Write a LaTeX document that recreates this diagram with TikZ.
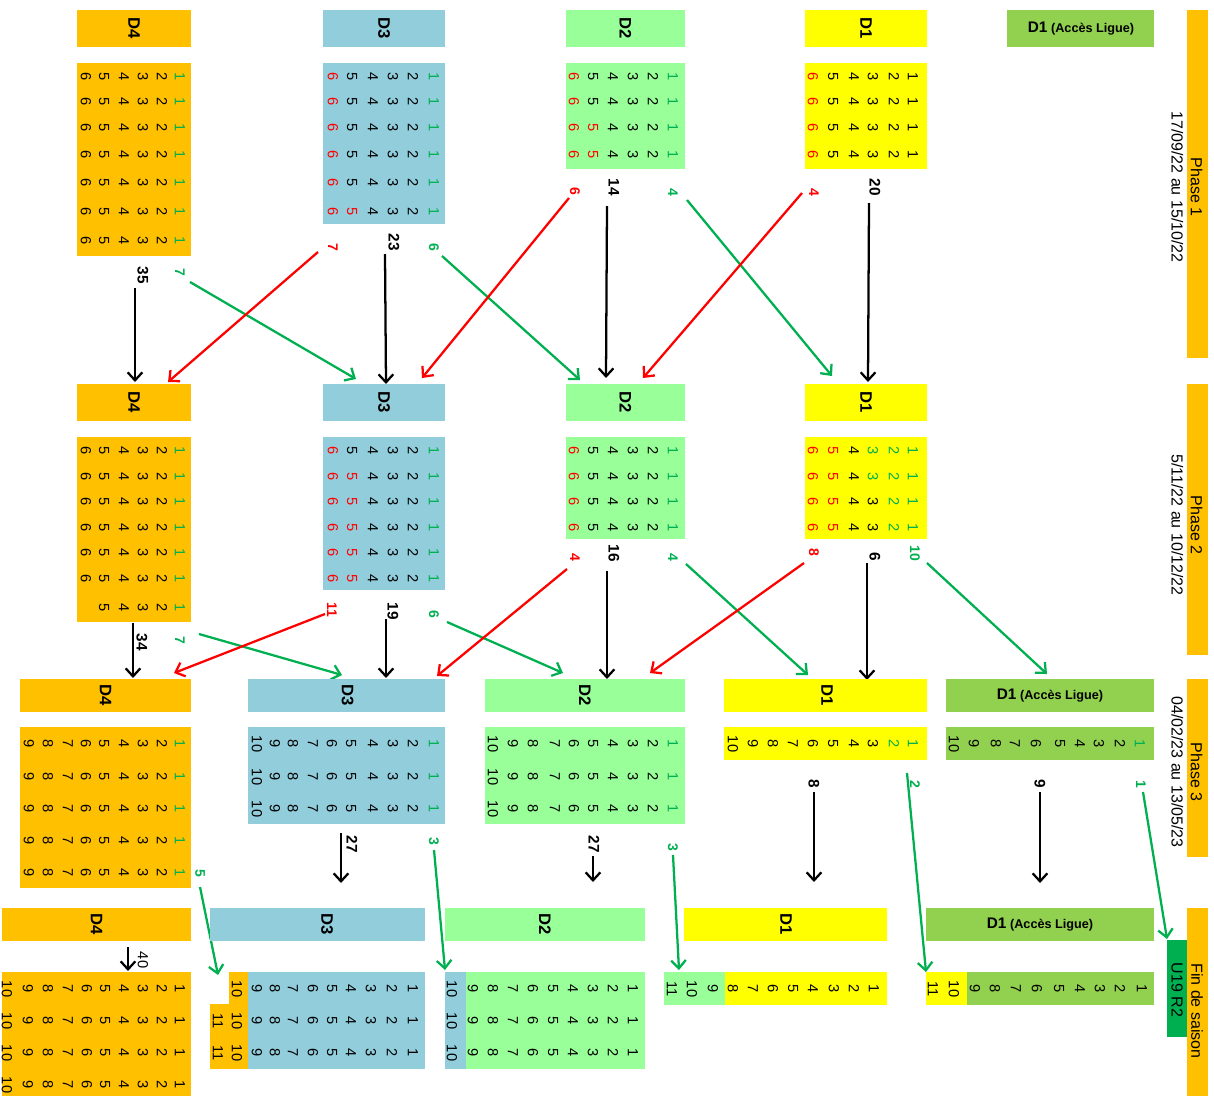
\documentclass[tikz,border=0pt]{standalone}
\usepackage{fontspec}
\setmainfont{Liberation Sans}
\usetikzlibrary{arrows.meta}
\definecolor{orangeD}{HTML}{FFC000}
\definecolor{bleuD}{HTML}{92CDDC}
\definecolor{vertD}{HTML}{99FF99}
\definecolor{jauneD}{HTML}{FFFF00}
\definecolor{vertL}{HTML}{92D050}
\definecolor{vertU}{HTML}{00B050}
\definecolor{rougeT}{HTML}{FF0000}
\definecolor{vertT}{HTML}{00B050}
\tikzset{
  num/.style={rotate=-90,inner sep=0pt,font=\fontsize{11}{12}\selectfont},
  tete/.style={rotate=-90,inner sep=0pt,font=\fontsize{12.5}{14}\selectfont\bfseries},
  cpt/.style={rotate=-90,inner sep=0pt,font=\fontsize{11.5}{13}\selectfont\bfseries},
  mvt/.style={rotate=-90,inner sep=0pt,font=\fontsize{10.5}{12}\selectfont\bfseries},
  phase/.style={rotate=-90,inner sep=0pt,align=center,font=\fontsize{12}{14.5}\selectfont},
  fl/.style={line width=1.7pt,-{Straight Barb[length=6pt,width=11pt]}},
  flv/.style={fl,draw=vertT},
  flr/.style={fl,draw=rougeT}
}
\newcommand{\ligue}{{\fontsize{11.5}{13}\selectfont\bfseries D1} {\fontsize{9.5}{11}\selectfont\bfseries (Accès Ligue)}}

\begin{document}
\begin{tikzpicture}[x=0.75pt,y=-0.75pt]
	\useasboundingbox (0,0) rectangle (1214,1096);

	% Phase 1
	\fill[orangeD] (77,10) rectangle (191,47);
	\fill[orangeD] (77,63) rectangle (191,256);
	\fill[bleuD] (323,10) rectangle (445,47);
	\fill[bleuD] (323,63) rectangle (445,224);
	\fill[vertD] (566,10) rectangle (685,47);
	\fill[vertD] (566,63) rectangle (685,169);
	\fill[jauneD] (805,10) rectangle (927,47);
	\fill[jauneD] (805,63) rectangle (927,169);
	\fill[vertL] (1007,10) rectangle (1154,47);
	\fill[orangeD] (1187,10) rectangle (1208,358);

	\node[tete] (h1d4) at (134,28.5) {D4};
	\node[tete] (h1d3) at (384,28.5) {D3};
	\node[tete] (h1d2) at (625.5,28.5) {D2};
	\node[tete] (h1d1) at (866,28.5) {D1};
	\node (h1al) at (1081,28.5) {\ligue};
	\node[phase] (ph1) at (1187,187) {Phase 1\\17/09/22 au 15/10/22};

	\foreach \y in {77,102,128,155,183,212,241} {
		\foreach \x/\v in {86/6,104/5,124/4,143/3,162/2}
			\node[num] (a\x-\y) at (\x,\y) {\v};
		\node[num,text=vertT] (a180-\y) at (180,\y) {1};
	}
	\foreach \y/\c in {77/black,102/black,128/black,155/black,183/black,212/rougeT} {
		\node[num,text=rougeT] (b333-\y) at (333,\y) {6};
		\node[num,text=\c] (b352-\y) at (352,\y) {5};
		\foreach \x/\v in {373/4,393/3,413/2}
			\node[num] (b\x-\y) at (\x,\y) {\v};
		\node[num,text=vertT] (b434-\y) at (434,\y) {1};
	}
	\foreach \y/\c in {77/black,102/black,128/rougeT,155/rougeT} {
		\node[num,text=rougeT] (c574-\y) at (574,\y) {6};
		\node[num,text=\c] (c593-\y) at (593,\y) {5};
		\foreach \x/\v in {613/4,633/3,653/2}
			\node[num] (c\x-\y) at (\x,\y) {\v};
		\node[num,text=vertT] (c673-\y) at (673,\y) {1};
		\node[num,text=rougeT] (d813-\y) at (813,\y) {6};
		\foreach \x/\v in {833/5,854/4,873/3,894/2,913/1}
			\node[num] (d\x-\y) at (\x,\y) {\v};
	}

	\node[cpt] (n1d4) at (143,275) {35};
	\node[mvt,text=vertT] (m1d4) at (180,272) {7};
	\node[mvt,text=rougeT] (r1d3) at (333,247) {7};
	\node[cpt] (n1d3) at (394,242) {23};
	\node[mvt,text=vertT] (m1d3) at (434,247) {6};
	\node[mvt,text=rougeT] (r1d2) at (575,191) {6};
	\node[cpt] (n1d2) at (614,187) {14};
	\node[mvt,text=vertT] (m1d2) at (673,192) {4};
	\node[mvt,text=rougeT] (r1d1) at (814,192) {4};
	\node[cpt] (n1d1) at (875,187) {20};

	\coordinate (s1) at (135,288);  \coordinate (e1) at (135,382);
	\coordinate (s2) at (190,282);  \coordinate (e2) at (356,379);
	\coordinate (s3) at (318,252);  \coordinate (e3) at (168,382);
	\coordinate (s4) at (385,254);  \coordinate (e4) at (386,384);
	\coordinate (s5) at (442,256);  \coordinate (e5) at (580,380);
	\coordinate (s6) at (569,198);  \coordinate (e6) at (422,378);
	\coordinate (s7) at (607,206);  \coordinate (e7) at (606,378);
	\coordinate (s8) at (687,200);  \coordinate (e8) at (832,376);
	\coordinate (s9) at (802,193);  \coordinate (e9) at (643,378);
	\coordinate (s10) at (869,203); \coordinate (e10) at (868,382);
	\draw[fl] (s1) -- (e1);
	\draw[flv] (s2) -- (e2);
	\draw[flr] (s3) -- (e3);
	\draw[fl] (s4) -- (e4);
	\draw[flv] (s5) -- (e5);
	\draw[flr] (s6) -- (e6);
	\draw[fl] (s7) -- (e7);
	\draw[flv] (s8) -- (e8);
	\draw[flr] (s9) -- (e9);
	\draw[fl] (s10) -- (e10);

	% Phase 2
	\fill[orangeD] (77,384) rectangle (191,421);
	\fill[orangeD] (77,437) rectangle (191,622);
	\fill[bleuD] (323,384) rectangle (445,421);
	\fill[bleuD] (323,437) rectangle (445,590);
	\fill[vertD] (566,384) rectangle (685,421);
	\fill[vertD] (566,437) rectangle (685,539);
	\fill[jauneD] (805,384) rectangle (927,421);
	\fill[jauneD] (805,437) rectangle (927,539);
	\fill[orangeD] (1187,384) rectangle (1208,655);

	\node[tete] (h2d4) at (134,402.5) {D4};
	\node[tete] (h2d3) at (384,402.5) {D3};
	\node[tete] (h2d2) at (625.5,402.5) {D2};
	\node[tete] (h2d1) at (866,402.5) {D1};
	\node[phase] (ph2) at (1187,525) {Phase 2\\5/11/22 au 10/12/22};

	\foreach \y in {451,477,502,528,553,579,608} {
		\foreach \x/\v in {104/5,124/4,143/3,162/2}
			\node[num] (e\x-\y) at (\x,\y) {\v};
		\node[num,text=vertT] (e180-\y) at (180,\y) {1};
	}
	\foreach \y in {451,477,502,528,553,579}
		\node[num] (e86-\y) at (86,\y) {6};
	\foreach \y/\c in {451/black,477/rougeT,502/rougeT,528/rougeT,553/rougeT,579/rougeT} {
		\node[num,text=rougeT] (f333-\y) at (333,\y) {6};
		\node[num,text=\c] (f352-\y) at (352,\y) {5};
		\foreach \x/\v in {373/4,393/3,413/2}
			\node[num] (f\x-\y) at (\x,\y) {\v};
		\node[num,text=vertT] (f434-\y) at (434,\y) {1};
	}
	\foreach \y/\c in {451/vertT,477/vertT,502/black,528/black} {
		\node[num,text=rougeT] (g574-\y) at (574,\y) {6};
		\foreach \x/\v in {593/5,613/4,633/3,653/2}
			\node[num] (g\x-\y) at (\x,\y) {\v};
		\node[num,text=vertT] (g673-\y) at (673,\y) {1};
		\node[num,text=rougeT] (k813-\y) at (813,\y) {6};
		\node[num,text=rougeT] (k833-\y) at (833,\y) {5};
		\node[num] (k854-\y) at (854,\y) {4};
		\node[num,text=\c] (k873-\y) at (873,\y) {3};
		\node[num,text=vertT] (k894-\y) at (894,\y) {2};
		\node[num,text=vertT] (k913-\y) at (913,\y) {1};
	}

	\node[cpt] (n2d4) at (142,642) {34};
	\node[mvt,text=vertT] (m2d4) at (180,640) {7};
	\node[mvt,text=rougeT] (r2d3) at (332,610) {11};
	\node[cpt] (n2d3) at (393,611) {19};
	\node[mvt,text=vertT] (m2d3) at (434,614) {6};
	\node[mvt,text=rougeT] (r2d2) at (575,557) {4};
	\node[cpt] (n2d2) at (614,553) {16};
	\node[mvt,text=vertT] (m2d2) at (673,557) {4};
	\node[mvt,text=rougeT] (r2d1) at (814,552) {8};
	\node[cpt] (n2d1) at (875,557) {6};
	\node[mvt,text=vertT] (m2d1) at (915,553) {10};

	\coordinate (t1) at (133,623);  \coordinate (f1) at (133,678);
	\coordinate (t2) at (199,634);  \coordinate (f2) at (342,675);
	\coordinate (t3) at (325,614);  \coordinate (f3) at (174,673);
	\coordinate (t4) at (386,619);  \coordinate (f4) at (386,678);
	\coordinate (t5) at (447,622);  \coordinate (f5) at (563,673);
	\coordinate (t6) at (567,569);  \coordinate (f6) at (437,676);
	\coordinate (t7) at (607,571);  \coordinate (f7) at (607,679);
	\coordinate (t8) at (686,564);  \coordinate (f8) at (808,675);
	\coordinate (t9) at (804,563);  \coordinate (f9) at (650,673);
	\coordinate (t10) at (867,563); \coordinate (f10) at (867,680);
	\coordinate (t11) at (927,563); \coordinate (f11) at (1047,674);
	\draw[fl] (t1) -- (f1);
	\draw[flv] (t2) -- (f2);
	\draw[flr] (t3) -- (f3);
	\draw[fl] (t4) -- (f4);
	\draw[flv] (t5) -- (f5);
	\draw[flr] (t6) -- (f6);
	\draw[fl] (t7) -- (f7);
	\draw[flv] (t8) -- (f8);
	\draw[flr] (t9) -- (f9);
	\draw[fl] (t10) -- (f10);
	\draw[flv] (t11) -- (f11);

	% Phase 3
	\fill[orangeD] (20,679) rectangle (191,712);
	\fill[orangeD] (20,727) rectangle (191,888);
	\fill[bleuD] (248,679) rectangle (445,712);
	\fill[bleuD] (248,727) rectangle (445,824);
	\fill[vertD] (485,679) rectangle (685,712);
	\fill[vertD] (485,727) rectangle (685,824);
	\fill[jauneD] (724,679) rectangle (927,712);
	\fill[jauneD] (724,727) rectangle (927,760);
	\fill[vertL] (946,679) rectangle (1154,712);
	\fill[vertL] (946,727) rectangle (1154,760);
	\fill[orangeD] (1187,679) rectangle (1208,857);

	\node[tete] (h3d4) at (105.5,695.5) {D4};
	\node[tete] (h3d3) at (347.5,695.5) {D3};
	\node[tete] (h3d2) at (585,695.5) {D2};
	\node[tete] (h3d1) at (827,695.5) {D1};
	\node (h3al) at (1050,695.5) {\ligue};
	\node[phase] (ph3) at (1187,772) {Phase 3\\04/02/23 au 13/05/23};

	\foreach \y in {744,777,809,841,873} {
		\foreach \x/\v in {29/9,48/8,68/7,86/6,104/5,124/4,143/3,162/2}
			\node[num] (p\x-\y) at (\x,\y) {\v};
		\node[num,text=vertT] (p180-\y) at (180,\y) {1};
	}
	\foreach \y in {744,777,809} {
		\foreach \x/\v in {257/10,275/9,293/8,313/7,332/6,351/5,373/4,393/3,413/2}
			\node[num] (q\x-\y) at (\x,\y) {\v};
		\node[num,text=vertT] (q434-\y) at (434,\y) {1};
		\foreach \x/\v in {493/10,513/9,533/8,555/7,574/6,593/5,613/4,633/3,653/2}
			\node[num] (u\x-\y) at (\x,\y) {\v};
		\node[num,text=vertT] (u673-\y) at (673,\y) {1};
	}
	\foreach \x/\v in {733/10,753/9,773/8,793/7,813/6,833/5,854/4,873/3}
		\node[num] (w\x) at (\x,744) {\v};
	\node[num,text=vertT] (w894) at (894,744) {2};
	\node[num,text=vertT] (w913) at (913,744) {1};
	\foreach \x/\v in {954/10,974/9,996/8,1015/7,1036/6,1060/5,1080/4,1099/3,1120/2}
		\node[num] (z\x) at (\x,744) {\v};
	\node[num,text=vertT] (z1140) at (1140,744) {1};

	\node[mvt,text=vertT] (m3d4) at (200,873) {5};
	\node[cpt] (n3d3) at (352,844) {27};
	\node[mvt,text=vertT] (m3d3) at (434,841) {3};
	\node[cpt] (n3d2) at (594,844) {27};
	\node[mvt,text=vertT] (m3d2) at (673,847) {3};
	\node[cpt] (n3d1) at (814,784) {8};
	\node[mvt,text=vertT] (m3d1) at (915,784) {2};
	\node[cpt] (n3al) at (1040,784) {9};
	\node[mvt,text=vertT] (m3al) at (1141,784) {1};

	\coordinate (v1) at (200,887);  \coordinate (g1) at (218,975);
	\coordinate (v2) at (341,833);  \coordinate (g2) at (341,883);
	\coordinate (v3) at (434,850);  \coordinate (g3) at (445,970);
	\coordinate (v4) at (593,856);  \coordinate (g4) at (593,882);
	\coordinate (v5) at (673,855);  \coordinate (g5) at (679,970);
	\coordinate (v6) at (814,792);  \coordinate (g6) at (814,882);
	\coordinate (v7) at (907,773);  \coordinate (g7) at (926,972);
	\coordinate (v8) at (1040,792); \coordinate (g8) at (1040,883);
	\coordinate (v9) at (1143,792); \coordinate (g9) at (1167,939);
	\draw[flv] (v1) -- (g1);
	\draw[fl] (v2) -- (g2);
	\draw[flv] (v3) -- (g3);
	\draw[fl] (v4) -- (g4);
	\draw[flv] (v5) -- (g5);
	\draw[fl] (v6) -- (g6);
	\draw[flv] (v7) -- (g7);
	\draw[fl] (v8) -- (g8);
	\draw[flv] (v9) -- (g9);

	% Fin de saison
	\fill[orangeD] (2,908) rectangle (191,941);
	\fill[orangeD] (2,972) rectangle (191,1096);
	\fill[bleuD] (210,908) rectangle (425,941);
	\fill[bleuD] (248,972) rectangle (425,1069);
	\fill[orangeD] (229,972) rectangle (248,1069);
	\fill[orangeD] (210,1004) rectangle (229,1069);
	\fill[vertD] (445,908) rectangle (645,941);
	\fill[vertD] (466,972) rectangle (645,1069);
	\fill[bleuD] (445,972) rectangle (466,1069);
	\fill[jauneD] (684,908) rectangle (887,941);
	\fill[jauneD] (725,972) rectangle (887,1005);
	\fill[vertD] (664,972) rectangle (725,1005);
	\fill[vertL] (926,908) rectangle (1154,941);
	\fill[vertL] (967,972) rectangle (1154,1005);
	\fill[jauneD] (926,972) rectangle (967,1005);
	\fill[vertU] (1167,940) rectangle (1187,1037);
	\fill[orangeD] (1187,908) rectangle (1208,1096);

	\node[tete] (h4d4) at (96.5,924.5) {D4};
	\node[tete] (h4d3) at (327,924.5) {D3};
	\node[tete] (h4d2) at (545,924.5) {D2};
	\node[tete] (h4d1) at (786,924.5) {D1};
	\node (h4al) at (1040,924.5) {\ligue};
	\node[phase] (u19) at (1177,990) {U19 R2};
	\node[phase] (ph4) at (1197,1011) {Fin de saison};

	\node[num] (n4d4) at (143,960) {40};
	\coordinate (x1) at (128,947); \coordinate (y1) at (128,971);
	\draw[fl] (x1) -- (y1);

	\foreach \y in {989,1021,1053,1085}
		\foreach \x/\v in {7/10,28/9,48/8,68/7,87/6,105/5,124/4,143/3,162/2,180/1}
			\node[num] (i\x-\y) at (\x,\y) {\v};
	\foreach \y in {989,1021,1053} {
		\foreach \x/\v in {237/10,257/9,275/8,293/7,313/6,332/5,351/4,371/3,392/2,413/1}
			\node[num] (j\x-\y) at (\x,\y) {\v};
		\foreach \x/\v in {452/10,473/9,493/8,513/7,533/6,553/5,573/4,593/3,613/2,633/1}
			\node[num] (l\x-\y) at (\x,\y) {\v};
	}
	\node[num] (j218-1021) at (218,1021) {11};
	\node[num] (j218-1053) at (218,1053) {11};
	\foreach \x/\v in {672/11,692/10,713/9,733/8,753/7,773/6,793/5,813/4,834/3,854/2,874/1}
		\node[num] (o\x) at (\x,989) {\v};
	\foreach \x/\v in {933/11,954/10,975/9,995/8,1016/7,1037/6,1059/5,1080/4,1100/3,1120/2,1142/1}
		\node[num] (s\x) at (\x,989) {\v};
\end{tikzpicture}
\end{document}
